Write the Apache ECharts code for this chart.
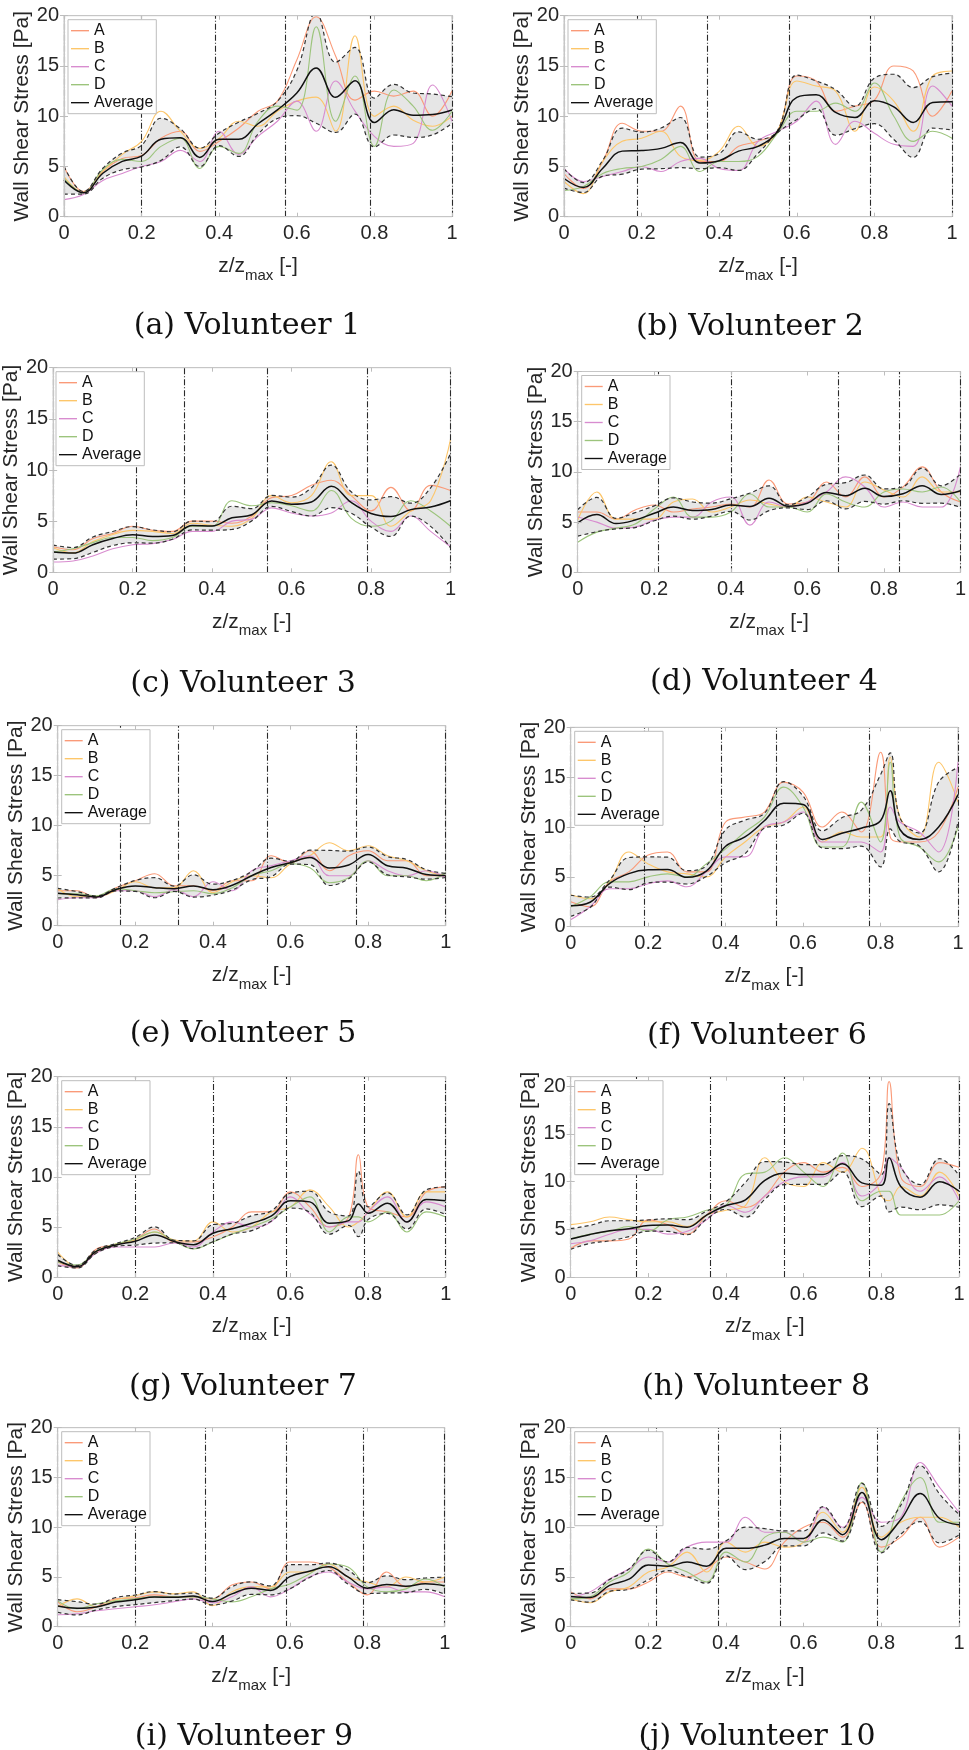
<!DOCTYPE html>
<html><head><meta charset="utf-8">
<script src="https://cdn.jsdelivr.net/npm/echarts@6/dist/echarts.min.js"></script>
<style>html,body{margin:0;padding:0;background:#fff}#c{width:969px;height:1750px}</style>
</head><body><div id="c"></div>
<script>
// ---------------- data ----------------
const BASE = [0,0.05,0.1,0.15,0.2,0.25,0.3,0.35,0.4,0.45,0.5,0.55,0.6,0.65,0.7,0.75,0.8,0.85,0.9,0.95,1];
const X6 = [0,0.05,0.1,0.15,0.2,0.25,0.3,0.35,0.4,0.45,0.5,0.55,0.6,0.65,0.7,0.75,0.8,0.825,0.85,0.9,0.95,1];
const X7 = [0,0.05,0.1,0.15,0.2,0.25,0.3,0.35,0.4,0.45,0.5,0.55,0.6,0.65,0.7,0.75,0.775,0.8,0.85,0.9,0.95,1];
const X8 = [0,0.05,0.1,0.15,0.2,0.25,0.3,0.35,0.4,0.45,0.5,0.55,0.6,0.65,0.7,0.75,0.8,0.82,0.85,0.9,0.95,1];

const v1A = [5.0,2.5,4.5,5.8,6.1,7.8,8.5,6.5,7.5,8.8,10.5,11.5,15.6,19.9,16.0,11.6,12.5,12.0,12.5,10.0,12.5];
const v1B = [4.0,2.4,4.5,6.2,7.5,10.5,8.5,6.8,7.8,9.5,9.0,10.5,11.5,11.9,8.5,18.0,10.0,11.0,9.6,9.0,10.0];
const v1C = [1.7,2.2,3.6,4.3,5.0,5.5,6.6,5.5,8.5,6.2,8.0,9.5,11.5,8.5,13.5,10.5,8.0,7.0,7.3,13.1,9.5];
const v1D = [3.8,2.4,4.7,5.7,5.5,7.0,7.8,4.8,7.0,6.3,9.5,11.0,10.6,18.9,9.5,14.0,7.0,12.6,11.0,8.6,10.5];

const v2A = [4.3,2.8,5.5,9.3,8.5,8.5,11.0,5.5,5.5,7.0,7.5,8.5,14.0,13.5,10.5,11.0,11.6,15.0,14.5,10.0,12.5];
const v2B = [3.5,2.3,5.5,7.5,7.8,8.5,6.0,5.6,6.5,9.0,7.0,8.5,13.5,13.0,12.5,8.5,12.9,11.5,8.5,14.0,14.5];
const v2C = [4.8,3.5,4.0,4.5,5.0,4.5,5.5,5.8,4.8,4.6,7.5,8.5,9.5,11.5,7.2,9.5,8.3,7.2,7.0,13.0,11.0];
const v2D = [2.6,3.0,4.3,4.8,5.0,5.7,7.0,4.5,5.5,5.5,6.0,8.3,10.5,10.5,11.3,10.5,13.3,10.0,7.5,8.5,7.8];

const v3A = [2.5,2.2,3.3,3.8,4.5,4.1,4.0,5.0,5.0,4.8,5.5,7.3,7.5,8.5,9.0,7.5,6.0,8.3,6.0,8.5,8.0];
const v3B = [2.4,1.9,3.0,3.7,4.1,4.0,3.8,4.8,4.6,4.5,5.3,7.5,6.8,7.5,10.8,7.5,7.5,4.5,6.0,7.0,13.0];
const v3C = [1.0,1.1,1.6,2.3,2.7,2.8,3.2,4.0,4.0,5.0,5.2,6.3,5.8,5.5,5.8,7.0,5.0,4.0,5.5,4.0,2.5];
const v3D = [2.0,2.3,2.9,3.4,3.4,3.1,3.4,4.5,4.5,7.0,6.5,6.8,6.5,6.0,8.0,5.3,4.5,5.0,7.0,6.0,4.5];

const v4A = [6.0,6.0,5.3,6.2,6.7,6.0,6.3,6.5,6.8,6.5,9.2,6.8,7.0,9.0,7.5,9.5,7.5,8.5,10.5,8.0,7.0];
const v4B = [5.2,8.0,5.3,5.3,5.3,7.0,7.3,6.0,6.5,7.2,6.8,6.5,7.5,7.0,6.5,9.0,8.2,7.5,9.5,8.0,8.0];
const v4C = [5.5,5.0,4.4,4.5,5.2,5.5,5.5,7.0,7.5,4.7,7.0,6.5,7.0,8.0,9.5,8.5,6.5,7.0,6.5,6.5,10.5];
const v4D = [3.0,4.0,4.4,4.8,6.3,7.5,5.5,5.5,6.0,7.8,6.5,6.5,6.0,7.8,7.0,6.5,8.0,8.3,8.0,8.5,7.0];

const v5A = [3.5,3.5,2.8,3.8,4.5,5.2,4.0,4.0,3.5,4.5,4.5,7.0,6.3,7.5,5.5,7.0,7.5,6.5,6.5,5.0,5.0];
const v5B = [3.7,2.9,2.9,3.5,4.4,3.8,3.8,5.5,3.3,4.4,5.0,4.8,6.2,7.0,8.3,7.5,8.0,7.0,6.5,5.5,5.0];
const v5C = [2.6,2.8,2.8,3.5,3.5,2.9,3.6,2.9,4.4,3.5,5.5,6.0,6.5,7.0,5.0,5.0,6.5,5.5,5.0,5.5,4.8];
const v5D = [3.2,3.2,3.0,3.7,3.5,3.3,3.4,3.5,3.2,3.8,5.0,5.5,6.2,5.8,4.3,4.8,6.5,5.0,5.0,4.5,5.3];

const v6A = [2.5,2.0,4.5,5.5,7.2,7.5,5.5,5.5,10.5,11.0,11.5,14.5,13.5,10.0,11.5,9.5,17.5,9.0,8.5,8.5,9.5,14.0];
const v6B = [3.2,2.8,4.5,7.5,6.3,5.5,5.3,5.0,7.0,8.5,10.0,10.5,12.0,8.5,9.5,9.0,9.0,17.0,11.0,9.0,16.5,12.5];
const v6C = [0.7,2.0,3.8,3.8,4.3,4.6,4.0,5.5,7.0,7.0,10.0,10.5,11.5,8.5,8.5,8.5,7.5,12.0,10.5,9.5,7.5,16.5];
const v6D = [2.0,3.0,4.5,4.5,5.0,5.3,5.0,6.3,7.8,9.5,11.0,14.0,12.0,8.0,8.0,12.5,8.5,16.5,9.0,8.0,6.5,10.0];

const v7A = [1.5,0.9,2.8,3.2,3.8,4.8,3.5,3.5,4.0,5.0,6.5,6.5,8.5,7.0,5.0,6.0,12.2,7.0,6.5,6.0,8.5,9.0];
const v7B = [2.5,1.0,2.5,3.3,3.7,4.5,3.7,3.6,5.5,4.5,5.0,6.5,7.0,8.7,7.0,5.0,5.5,6.5,8.5,6.0,8.5,8.5];
const v7C = [1.2,1.0,2.4,3.0,3.0,3.0,3.4,3.0,4.5,5.5,5.0,5.5,8.0,6.3,5.0,5.5,5.5,6.5,8.0,5.5,7.5,7.0];
const v7D = [1.5,1.2,2.6,3.3,3.8,4.5,3.6,2.8,3.5,4.3,5.0,5.8,7.0,8.0,4.5,6.0,6.0,5.5,6.5,4.5,6.5,6.0];

const v8A = [3.0,3.8,3.8,4.0,6.0,5.5,4.5,6.5,8.0,7.3,8.5,11.0,12.0,11.0,11.5,9.5,11.0,20.5,10.5,9.5,12.0,11.5];
const v8B = [5.5,5.8,6.3,6.0,5.8,5.8,5.3,6.5,7.0,7.5,12.5,10.0,9.5,12.0,11.0,13.5,8.5,8.0,9.5,8.5,11.0,8.5];
const v8C = [3.5,3.8,4.5,5.0,5.0,4.5,4.8,6.0,7.5,6.8,8.5,10.0,10.5,10.5,12.0,8.5,10.0,12.5,11.5,9.0,10.5,8.0];
const v8D = [4.0,4.5,4.8,5.3,4.8,6.0,6.3,7.0,7.5,10.8,11.0,12.5,11.0,9.5,13.0,8.0,9.0,9.0,6.5,6.5,6.5,8.0];

const v9A = [2.5,1.5,2.0,2.8,2.9,3.2,3.0,3.0,2.8,4.2,4.5,3.8,6.5,6.5,6.0,4.5,3.2,5.5,4.0,4.5,4.5];
const v9B = [2.0,2.8,2.0,2.7,3.1,3.5,3.3,3.5,2.1,3.5,4.0,4.0,5.5,5.5,6.3,5.0,4.5,4.0,5.0,4.5,5.0];
const v9C = [1.2,1.3,1.6,1.8,2.0,2.2,2.5,2.8,2.4,3.0,4.0,3.0,3.8,5.0,5.5,4.5,3.8,4.0,3.5,3.5,3.0];
const v9D = [2.6,1.8,2.3,2.6,2.8,3.0,3.0,3.0,2.8,2.5,3.0,3.8,4.3,5.3,6.3,6.0,4.0,3.5,3.8,4.8,4.0];

const v10A = [3.5,2.8,3.8,3.8,4.5,5.5,5.0,5.8,7.0,6.5,5.8,8.5,10.0,10.5,9.0,12.5,8.0,9.0,11.0,8.0,9.0];
const v10B = [2.8,2.4,3.5,4.0,5.5,6.0,7.5,5.5,8.5,7.5,8.5,8.0,8.5,11.5,9.5,14.0,9.0,10.5,11.0,11.0,10.0];
const v10C = [3.0,3.5,4.8,5.8,7.0,6.5,8.0,8.5,8.5,11.0,9.5,9.5,8.5,12.0,10.0,13.0,10.5,11.0,16.5,14.0,11.5];
const v10D = [2.8,3.0,4.5,5.5,7.8,6.3,5.5,4.5,7.5,6.5,9.0,9.5,8.5,9.0,8.5,14.5,7.5,12.5,15.0,10.5,10.5];

// segment boundaries (vertical dash-dot lines)
const seg1 = [0,0.196,0.385,0.573,0.791,1];
const seg2 = [0,0.194,0.368,0.579,0.791,1];
const seg3 = [0,0.212,0.325,0.536,0.785,1];
const seg4 = [0,0.213,0.398,0.677,0.836,1];
const seg5 = [0,0.163,0.311,0.542,0.766,1];
const seg6 = [0,0.192,0.385,0.529,0.768,1];
const seg7 = [0,0.197,0.395,0.591,0.787,1];
const seg8 = [0,0.168,0.365,0.552,0.767,1];
const seg9 = [0,0.2,0.376,0.59,0.789,1];
const seg10 = [0,0.224,0.381,0.544,0.79,1];

const captions = ['(a) Volunteer 1','(b) Volunteer 2','(c) Volunteer 3','(d) Volunteer 4','(e) Volunteer 5',
  '(f) Volunteer 6','(g) Volunteer 7','(h) Volunteer 8','(i) Volunteer 9','(j) Volunteer 10'];
const seriesNames = ['A','B','C','D'];
const yMax = [20,20,20,20,20,20,20,21,20,20];

// ---------------- layout / style ----------------
const LAYOUT = [
 {l:64, t:15.7, w:388, h:201},
 {l:564, t:15.7, w:388, h:201},
 {l:52, t:367.7, w:398.5, h:204.6},
 {l:577.7, t:371.5, w:387, h:200.8},
 {l:57.7, t:725.7, w:388, h:200},
 {l:570.7, t:727.3, w:387.3, h:199.4},
 {l:57.7, t:1076.7, w:388, h:200.3},
 {l:570.7, t:1076.7, w:388.3, h:200.4},
 {l:57.7, t:1427.7, w:387, h:199},
 {l:570.7, t:1427.7, w:388.3, h:199}
];
const CAP = [[247,326],[750,327],[243,684],[764,682],[243,1034],[757,1036],[243,1387],[756,1387],[244,1737],[757,1737]];
const COLORS = ['#fa9a78','#fdc66a','#d88ccf','#9cc47c'];
const FONT = 'Liberation Sans, Arial, sans-serif';
const LEG_ICON = 'path://M0,0L40,0L40,3L0,3Z';
const FRAME = '#c6c6c6';

const panels = [
 {x:BASE, s:[v1A,v1B,v1C,v1D], seg:seg1},
 {x:BASE, s:[v2A,v2B,v2C,v2D], seg:seg2},
 {x:BASE, s:[v3A,v3B,v3C,v3D], seg:seg3},
 {x:BASE, s:[v4A,v4B,v4C,v4D], seg:seg4},
 {x:BASE, s:[v5A,v5B,v5C,v5D], seg:seg5},
 {x:X6,   s:[v6A,v6B,v6C,v6D], seg:seg6},
 {x:X7,   s:[v7A,v7B,v7C,v7D], seg:seg7},
 {x:X8,   s:[v8A,v8B,v8C,v8D], seg:seg8},
 {x:BASE, s:[v9A,v9B,v9C,v9D], seg:seg9},
 {x:BASE, s:[v10A,v10B,v10C,v10D], seg:seg10}
];

const grid=[], xAxis=[], yAxis=[], xAxis2=[], yAxis2=[], series=[], legend=[], graphic=[];
const SM = 0.4;
panels.forEach((p, i) => {
  const L = LAYOUT[i];
  const n = p.x.length;
  const mean = [], lo = [], hi = [];
  for (let k = 0; k < n; k++) {
    const vals = p.s.map(a => a[k]);
    const m = vals.reduce((a,b)=>a+b,0)/vals.length;
    const sd = Math.sqrt(vals.reduce((a,b)=>a+(b-m)*(b-m),0)/(vals.length-1));
    mean.push(m); lo.push(m - sd); hi.push(m + sd);
  }
  grid.push({left:L.l, top:L.t, width:L.w, height:L.h, show:true, borderColor:FRAME, borderWidth:1, z:0});
  xAxis.push({type:'value', gridIndex:i, min:0, max:1, interval:0.2, z:8,
    axisLine:{show:true, onZero:false, lineStyle:{color:FRAME}},
    axisTick:{show:true, inside:true, length:4, lineStyle:{color:'#bdbdbd'}},
    splitLine:{show:false},
    axisLabel:{fontSize:20, color:'#262626', fontFamily:FONT, margin:7},
    name:'{n|z/z}{s|max}{n| [-]}', nameLocation:'middle', nameGap:39,
    nameTextStyle:{fontFamily:FONT, color:'#262626', rich:{
      n:{fontSize:21, fontFamily:FONT, color:'#262626', lineHeight:22, verticalAlign:'top'},
      s:{fontSize:15, fontFamily:FONT, color:'#262626', lineHeight:40, verticalAlign:'middle'}}}
  });
  xAxis2.push({type:'value', gridIndex:i, position:'top', min:0, max:1, interval:0.2, z:8,
    axisLine:{show:true, onZero:false, lineStyle:{color:FRAME}},
    axisTick:{show:true, inside:true, length:4, lineStyle:{color:'#bdbdbd'}},
    splitLine:{show:false}, axisLabel:{show:false}});
  yAxis.push({type:'value', gridIndex:i, min:0, max:yMax[i], interval:5, z:8,
    axisLine:{show:true, lineStyle:{color:FRAME}},
    axisTick:{show:true, inside:true, length:4, lineStyle:{color:'#bdbdbd'}},
    splitLine:{show:false},
    axisLabel:{fontSize:20, color:'#262626', fontFamily:FONT, margin:5, showMaxLabel: yMax[i] % 5 === 0},
    name:'Wall Shear Stress [Pa]', nameLocation:'middle', nameGap: (i===2?27:30),
    nameTextStyle:{fontSize:21, color:'#262626', fontFamily:FONT}
  });
  yAxis2.push({type:'value', gridIndex:i, position:'right', min:0, max:yMax[i], interval:5, z:8,
    axisLine:{show:true, lineStyle:{color:FRAME}},
    axisTick:{show:true, inside:true, length:4, lineStyle:{color:'#bdbdbd'}},
    splitLine:{show:false}, axisLabel:{show:false}});
  const pts = arr => p.x.map((x,k)=>[x, arr[k]]);
  const common = {type:'line', xAxisIndex:i, yAxisIndex:i, symbol:'none', showSymbol:false, smooth:SM, silent:true, animation:false};
  // band: grey fill up to mean+sd, then white fill up to mean-sd
  series.push(Object.assign({}, common, {name:'bandHi'+i, data:pts(hi), lineStyle:{width:0, opacity:0},
    areaStyle:{color:'#e6e6e6', opacity:1, origin:'start'}, z:1}));
  series.push(Object.assign({}, common, {name:'bandLo'+i, data:pts(lo), lineStyle:{width:0, opacity:0},
    areaStyle:{color:'#ffffff', opacity:1, origin:'start'}, z:1.5}));
  p.s.forEach((arr, j) => {
    series.push(Object.assign({}, common, {name:seriesNames[j], data:pts(arr), color:COLORS[j],
      itemStyle:{color:COLORS[j]}, lineStyle:{width:1.1, color:COLORS[j]}, z:3}));
  });
  series.push(Object.assign({}, common, {name:'hi'+i, data:pts(hi), lineStyle:{width:1.2, color:'#333', type:[4,3]}, z:4}));
  series.push(Object.assign({}, common, {name:'lw'+i, data:pts(lo), lineStyle:{width:1.2, color:'#333', type:[4,3]}, z:4}));
  series.push(Object.assign({}, common, {name:'Average', data:pts(mean), color:'#111', itemStyle:{color:'#111'},
    lineStyle:{width:1.5, color:'#111'}, z:5,
    markLine:{silent:true, symbol:['none','none'], label:{show:false}, animation:false,
      lineStyle:{color:'#2a2a2a', width:1.1, type:[6,2,1,2]},
      data:p.seg.map(v=>({xAxis:v}))}
  }));
  legend.push({data:['A','B','C','D','Average'], orient:'vertical', left:L.l+4, top:L.t+4, z:10,
    icon:LEG_ICON, itemWidth:18, itemHeight:10, itemGap:2, selectedMode:false,
    textStyle:{fontSize:16, color:'#111', fontFamily:FONT},
    backgroundColor:'#fff', borderColor:'#bdbdbd', borderWidth:1, padding:[3,3,3,3], borderRadius:0});
  graphic.push({type:'text', x:CAP[i][0], y:CAP[i][1], silent:true,
    style:{text:captions[i], textAlign:'center', textVerticalAlign:'middle', align:'center', verticalAlign:'middle',
      font:'30px "DejaVu Serif", serif', fill:'#111'}});
});

const chart = echarts.init(document.getElementById('c'), null, {renderer:'canvas'});
chart.setOption({backgroundColor:'#fff', animation:false, grid,
  xAxis: xAxis.concat(xAxis2), yAxis: yAxis.concat(yAxis2), series, legend, graphic});
</script></body></html>
